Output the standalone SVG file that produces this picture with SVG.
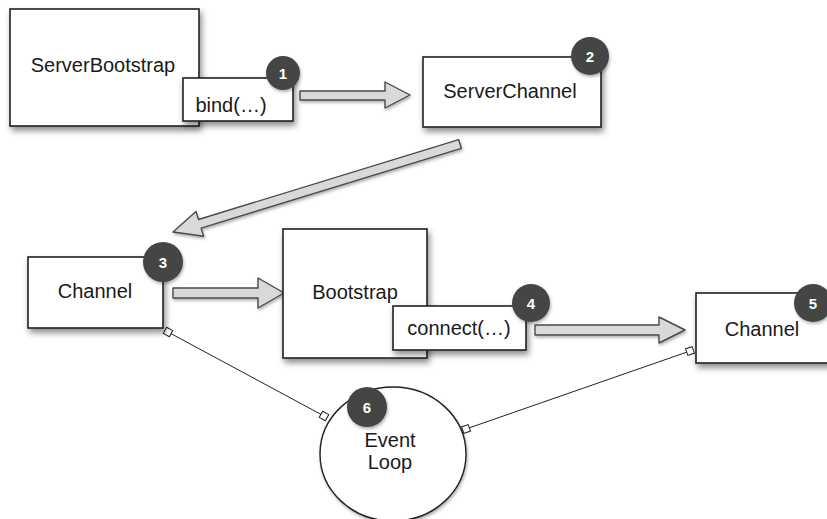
<svg xmlns="http://www.w3.org/2000/svg" width="827" height="519" viewBox="0 0 827 519">
<defs>
<filter id="sh" x="-20%" y="-20%" width="150%" height="160%">
<feDropShadow dx="2" dy="4" stdDeviation="3" flood-color="#000" flood-opacity="0.45"/>
</filter>
<filter id="ash" x="-10%" y="-30%" width="120%" height="180%">
<feDropShadow dx="1" dy="2" stdDeviation="1.5" flood-color="#000" flood-opacity="0.3"/>
</filter>
<style>
.box{fill:#fff;stroke:#222;stroke-width:1.6;filter:url(#sh)}
.lbl{font-family:"Liberation Sans",Arial,sans-serif;font-size:20px;fill:#1a1a1a;text-anchor:middle}
.badge circle{fill:#454545;filter:url(#ash)}
.badge text{font-family:"Liberation Sans",Arial,sans-serif;font-size:15px;font-weight:bold;fill:#fff;text-anchor:middle}
.arrow{fill:#d9d9d9;stroke:#4a4a4a;stroke-width:1.4;stroke-linejoin:round;filter:url(#ash)}
.conn{stroke:#222;stroke-width:1;fill:none}
.sq{fill:#fff;stroke:#222;stroke-width:1}
</style>
</defs>
<rect width="827" height="519" fill="#fff"/>

<g id="connectors">
<polygon class="arrow" points="300,91 385,91 385,82 410,95 385,108 385,100 300,100"/>
<polygon class="arrow" points="458.7,139.7 198.5,219.5 196,211.4 173,232 203.6,236.2 201.1,228.1 461.3,148.3"/>
<polygon class="arrow" points="173,288 258,288 258,278 284,293 258,308 258,298 173,298"/>
<polygon class="arrow" points="535,325 659,325 659,317 685,330 659,343 659,335 535,335"/>
<line class="conn" x1="168" y1="332" x2="324" y2="416"/>
<rect class="sq" x="-3.5" y="-3.5" width="7" height="7" transform="translate(168,332) rotate(28.6)"/>
<rect class="sq" x="-3.5" y="-3.5" width="7" height="7" transform="translate(324,416) rotate(28.6)"/>
<line class="conn" x1="466" y1="429" x2="690" y2="351"/>
<rect class="sq" x="-3.5" y="-3.5" width="7" height="7" transform="translate(466,429) rotate(-19.4)"/>
<rect class="sq" x="-3.5" y="-3.5" width="7" height="7" transform="translate(690,351) rotate(-19.4)"/>
</g>

<g id="serverbootstrap">
<rect class="box" x="10" y="9" width="189" height="117"/>
<text class="lbl" x="103" y="72">ServerBootstrap</text>
</g>
<g id="bind">
<rect class="box" x="183" y="78" width="110" height="43"/>
<text class="lbl" x="231" y="112">bind(…)</text>
</g>
<g id="badge1" class="badge"><circle cx="283" cy="73" r="17"/><text x="283" y="78.5">1</text></g>

<g id="serverchannel">
<rect class="box" x="423" y="57" width="178" height="70"/>
<text class="lbl" x="510" y="98">ServerChannel</text>
</g>
<g id="badge2" class="badge"><circle cx="590" cy="56" r="19"/><text x="590" y="61.5">2</text></g>

<g id="channel3">
<rect class="box" x="28" y="257" width="135" height="71"/>
<text class="lbl" x="95" y="298">Channel</text>
</g>
<g id="badge3" class="badge"><circle cx="163" cy="262" r="20"/><text x="163" y="267.5">3</text></g>

<g id="bootstrap">
<rect class="box" x="283" y="229" width="144" height="129"/>
<text class="lbl" x="355" y="299">Bootstrap</text>
</g>
<g id="connect">
<rect class="box" x="393" y="306" width="133" height="44"/>
<text class="lbl" x="459" y="335">connect(…)</text>
</g>
<g id="badge4" class="badge"><circle cx="531" cy="303" r="19"/><text x="531" y="308.5">4</text></g>

<g id="channel5">
<rect class="box" x="696" y="293" width="150" height="70"/>
<text class="lbl" x="762" y="336">Channel</text>
</g>
<g id="badge5" class="badge"><circle cx="813" cy="303" r="19"/><text x="813" y="308.5">5</text></g>

<g id="eventloop">
<ellipse cx="393" cy="454" rx="73" ry="67" fill="#fff" stroke="#222" stroke-width="1.4" filter="url(#ash)"/>
<text class="lbl" x="390" y="447">Event</text>
<text class="lbl" x="390" y="469">Loop</text>
</g>
<g id="badge6" class="badge"><circle cx="367" cy="407" r="20"/><text x="367" y="412.5">6</text></g>
</svg>
